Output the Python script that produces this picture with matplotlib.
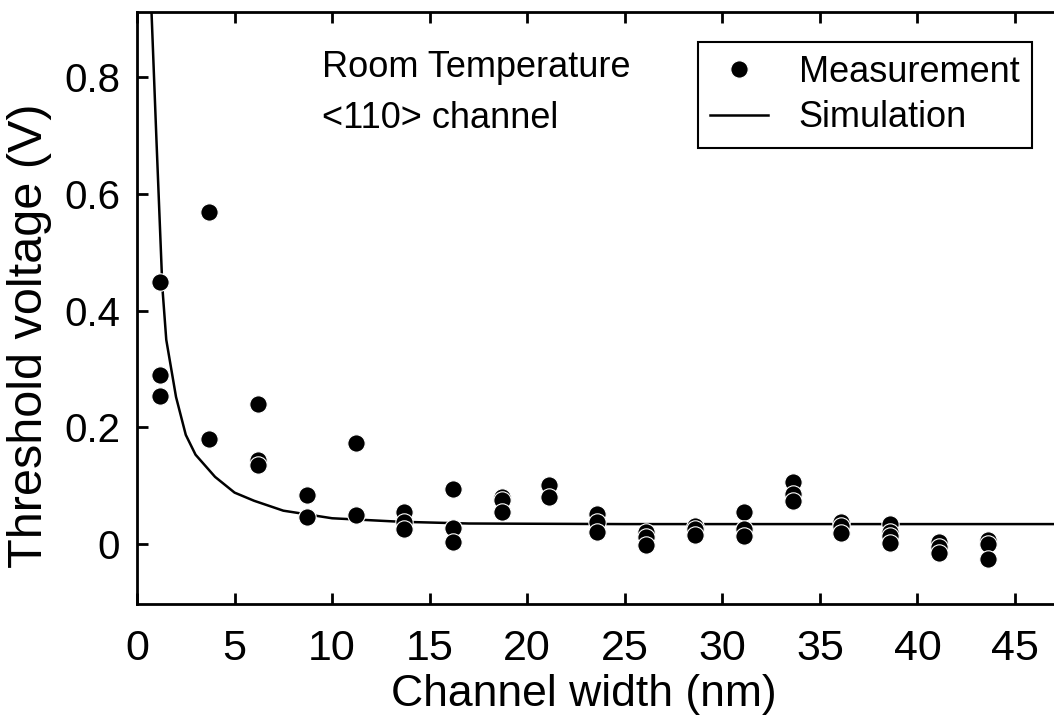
import numpy as np
from matplotlib import pyplot as plt

# measured threshold voltage vs channel width (several devices per width)
meas_width = [1.2, 1.2, 1.2,
              3.7, 3.7,
              6.2, 6.2, 6.2,
              8.7, 8.7,
              11.2, 11.2,
              13.7, 13.7, 13.7,
              16.2, 16.2, 16.2,
              18.7, 18.7, 18.7,
              21.1, 21.1,
              23.6, 23.6, 23.6,
              26.1, 26.1, 26.1,
              28.6, 28.6, 28.6,
              31.1, 31.1, 31.1,
              33.6, 33.6, 33.6,
              36.1, 36.1, 36.1,
              38.6, 38.6, 38.6, 38.6,
              41.1, 41.1, 41.1,
              43.6, 43.6, 43.6]
meas_vth = [0.449, 0.290, 0.254,
            0.569, 0.180,
            0.240, 0.144, 0.135,
            0.084, 0.047,
            0.173, 0.050,
            0.054, 0.038, 0.026,
            0.094, 0.027, 0.003,
            0.081, 0.075, 0.055,
            0.101, 0.081,
            0.051, 0.037, 0.021,
            0.021, 0.012, -0.002,
            0.031, 0.025, 0.015,
            0.055, 0.025, 0.014,
            0.106, 0.086, 0.073,
            0.037, 0.030, 0.018,
            0.034, 0.021, 0.013, 0.001,
            0.003, -0.005, -0.016,
            0.006, 0.000, -0.025]

# simulation curve
sim_width = [0.70, 1.0, 1.3, 1.5, 2.0, 2.5, 3.0, 4.0, 5.0, 6.0, 7.5, 10.0, 13.5, 17.0, 25.0, 50.0]
sim_vth = [0.95, 0.69, 0.44, 0.35, 0.252, 0.187, 0.153, 0.115, 0.088, 0.074, 0.057, 0.044, 0.038, 0.035, 0.034, 0.034]

plt.rcParams['font.family'] = ['Liberation Sans', 'DejaVu Sans']

fig = plt.figure(figsize=(10.54, 7.2), dpi=100, facecolor='w')
ax = fig.add_axes([137/1054, 116/720, 917/1054, 592/720])

ax.plot(sim_width, sim_vth, color='black', lw=1.8, label='Simulation', zorder=2)
ax.plot(meas_width, meas_vth, 'o', color='black', markersize=12.5,
        markeredgecolor='white', markeredgewidth=0.8, label='Measurement', zorder=3)

ax.set_xlim(0, 47)
ax.set_ylim(-0.103, 0.912)
ax.set_xticks(np.arange(0, 50, 5))
ax.set_yticks([0, 0.2, 0.4, 0.6, 0.8])
ax.set_yticklabels(['0', '0.2', '0.4', '0.6', '0.8'])

for s in ['left', 'bottom', 'top']:
    ax.spines[s].set_linewidth(2)
ax.spines['right'].set_visible(False)
ax.tick_params(direction='in', top=True, length=8, width=2)
ax.tick_params(axis='x', labelsize=31, pad=18)
ax.tick_params(axis='y', labelsize=29, pad=12)

ax.set_xlabel('Channel width (nm)', fontsize=32)
ax.xaxis.set_label_coords((584-137)/917, -70/592)
ax.set_ylabel('Threshold voltage (V)', fontsize=35)
ax.yaxis.set_label_coords(-85/917, (604-336)/592)

fig.text(322/1054, 1-77/720, 'Room Temperature', fontsize=26, va='baseline')
fig.text(322/1054, 1-128/720, '<110> channel', fontsize=26, va='baseline')

handles, labels = ax.get_legend_handles_labels()
leg = ax.legend(handles[::-1], labels[::-1], loc='upper right',
                bbox_to_anchor=(1032/1054, 1-42/720), bbox_transform=fig.transFigure,
                fontsize=26, fancybox=False, framealpha=1, edgecolor='black',
                handlelength=1.6, handletextpad=0.85, labelspacing=0.3,
                borderpad=0.35, borderaxespad=0)
leg.get_frame().set_linewidth(1.5)

fig.savefig('out.png', dpi=100)
